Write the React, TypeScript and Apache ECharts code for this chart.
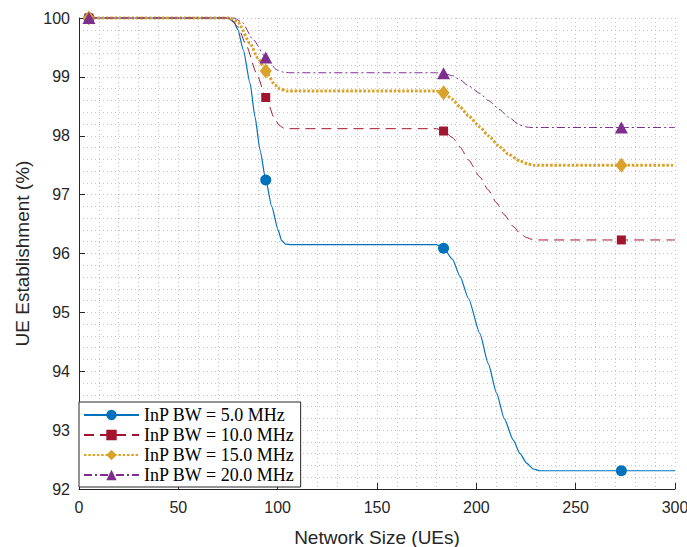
import React, { useEffect, useRef } from "react";
import * as echarts from "echarts";

const seriesNames = [
  "InP BW = 5.0 MHz",
  "InP BW = 10.0 MHz",
  "InP BW = 15.0 MHz",
  "InP BW = 20.0 MHz",
];

const markerXs = [5, 94, 183.5, 273];

const bw5X = [5, 75, 78, 80, 82.7, 86.1, 88.6, 91.1, 94, 97, 100.2, 102, 104, 107, 180, 183.5, 188, 191.8, 196, 201.8, 206, 210.2, 214, 218.6, 222, 225.3, 228.7, 232, 273, 300];
const bw5Y = [100, 100, 99.93, 99.8, 99.46, 98.89, 98.32, 97.76, 97.25, 96.8, 96.4, 96.22, 96.16, 96.15, 96.15, 96.09, 95.9, 95.61, 95.24, 94.64, 94.13, 93.63, 93.2, 92.83, 92.6, 92.44, 92.34, 92.31, 92.31, 92.31];

const bw10X = [5, 76, 80, 84, 89.4, 94, 98.7, 101, 103, 106, 180, 183.5, 188, 191.8, 196, 201.8, 206, 210.2, 214, 218.6, 222, 225.3, 228, 232, 273, 300];
const bw10Y = [100, 100, 99.85, 99.55, 99.06, 98.65, 98.27, 98.17, 98.13, 98.12, 98.12, 98.08, 97.97, 97.81, 97.59, 97.3, 97.08, 96.86, 96.66, 96.46, 96.34, 96.27, 96.24, 96.23, 96.23, 96.23];

const bw15X = [5, 76, 80, 86.1, 90, 94, 98.7, 101, 104.5, 180, 183.5, 188, 191.8, 196, 201.8, 206, 211.9, 216, 222, 226, 228.7, 273, 300];
const bw15Y = [100, 100, 99.93, 99.57, 99.32, 99.1, 98.86, 98.8, 98.76, 98.76, 98.73, 98.62, 98.49, 98.34, 98.15, 98.0, 97.81, 97.69, 97.57, 97.52, 97.5, 97.5, 97.5];

const bw20X = [5, 78, 82, 87.7, 94, 99.5, 103, 106.2, 180, 183.5, 188, 191.8, 196, 201.8, 206, 211.9, 216, 222, 225, 227.5, 273, 300];
const bw20Y = [100, 100, 99.93, 99.63, 99.33, 99.12, 99.08, 99.07, 99.07, 99.06, 99.02, 98.95, 98.85, 98.72, 98.6, 98.44, 98.32, 98.18, 98.15, 98.14, 98.14, 98.14];

const xTicks = [0, 50, 100, 150, 200, 250, 300];
const yTicks = [92, 93, 94, 95, 96, 97, 98, 99, 100];

function build(xs: number[], ys: number[]) {
  return xs.map((x, i) =>
    markerXs.includes(x) ? { value: [x, ys[i]] } : { value: [x, ys[i]], symbol: "none" }
  );
}

const gridLine = { show: true, lineStyle: { color: "#c4c4c4", type: [1, 3], width: 1 } };

export default function App() {
  const ref = useRef<HTMLDivElement>(null);
  useEffect(() => {
    if (!ref.current) return;
    const chart = echarts.init(ref.current, undefined, { renderer: "svg" });
    const axisText = { color: "#262626", fontFamily: "Liberation Sans, Arial, sans-serif", fontSize: 16 };
    const option: any = {
      animation: false,
      backgroundColor: "#ffffff",
      grid: { left: 79, right: 12, top: 18, bottom: 58, containLabel: false, outerBoundsMode: "none" },
      xAxis: {
        type: "value",
        min: xTicks[0],
        max: xTicks[xTicks.length - 1],
        interval: 50,
        name: "Network Size (UEs)",
        nameLocation: "middle",
        nameGap: 39,
        nameTextStyle: { ...axisText, fontSize: 19 },
        axisLine: { show: true, lineStyle: { color: "#262626", width: 1 } },
        axisTick: { show: true, inside: true, length: 6, lineStyle: { color: "#262626" } },
        axisLabel: { ...axisText, margin: 10 },
        splitLine: gridLine,
        minorTick: { show: false, splitNumber: 5 },
        minorSplitLine: gridLine,
      },
      yAxis: {
        type: "value",
        min: yTicks[0],
        max: yTicks[yTicks.length - 1],
        interval: 1,
        name: "UE Establishment (%)",
        nameLocation: "middle",
        nameGap: 47,
        nameTextStyle: { ...axisText, fontSize: 19 },
        axisLine: { show: true, lineStyle: { color: "#262626", width: 1 } },
        axisTick: { show: true, inside: true, length: 6, lineStyle: { color: "#262626" } },
        axisLabel: { ...axisText, margin: 9 },
        splitLine: gridLine,
        minorTick: { show: false, splitNumber: 5 },
        minorSplitLine: gridLine,
      },
      legend: {
        show: true,
        orient: "vertical",
        left: 79,
        top: 402,
        backgroundColor: "#ffffff",
        borderColor: "#262626",
        borderWidth: 1,
        borderRadius: 0,
        padding: [4, 6, 3, 4],
        itemGap: 2,
        itemWidth: 55,
        itemHeight: 13,
        textStyle: { fontFamily: "Liberation Serif, Times New Roman, serif", fontSize: 18, lineHeight: 18, color: "#000000" },
        data: seriesNames,
      },
      series: [
        {
          name: seriesNames[0],
          type: "line",
          data: build(bw5X, bw5Y),
          smooth: 0.2,
          smoothMonotone: "x",
          symbol: "circle",
          symbolSize: 11,
          showSymbol: true,
          clip: false,
          itemStyle: { color: "#0072BD" },
          lineStyle: { color: "#0072BD", width: 1.2, type: "solid" },
          z: 2,
        },
        {
          name: seriesNames[1],
          type: "line",
          data: build(bw10X, bw10Y),
          smooth: 0.2,
          smoothMonotone: "x",
          symbol: "rect",
          symbolSize: 9,
          showSymbol: true,
          clip: false,
          itemStyle: { color: "#A2142F" },
          lineStyle: { color: "#A2142F", width: 1, type: [10, 6] },
          z: 3,
        },
        {
          name: seriesNames[2],
          type: "line",
          data: build(bw15X, bw15Y),
          smooth: 0.2,
          smoothMonotone: "x",
          symbol: "diamond",
          symbolSize: [12, 15],
          showSymbol: true,
          clip: false,
          itemStyle: { color: "#D9A22B" },
          lineStyle: { color: "#D9A22B", width: 3, type: [2.5, 1.8] },
          z: 4,
        },
        {
          name: seriesNames[3],
          type: "line",
          data: build(bw20X, bw20Y),
          smooth: 0.2,
          smoothMonotone: "x",
          symbol: "triangle",
          symbolSize: [13, 12],
          showSymbol: true,
          clip: false,
          itemStyle: { color: "#7E2F8E" },
          lineStyle: { color: "#7E2F8E", width: 1, type: [8, 3, 2, 3] },
          z: 5,
        },
      ],
    };
    chart.setOption(option);
    return () => chart.dispose();
  }, []);
  return (
    <div
      ref={ref}
      style={{ position: "fixed", left: 0, top: 0, width: 687, height: 547, background: "#fff" }}
    />
  );
}
